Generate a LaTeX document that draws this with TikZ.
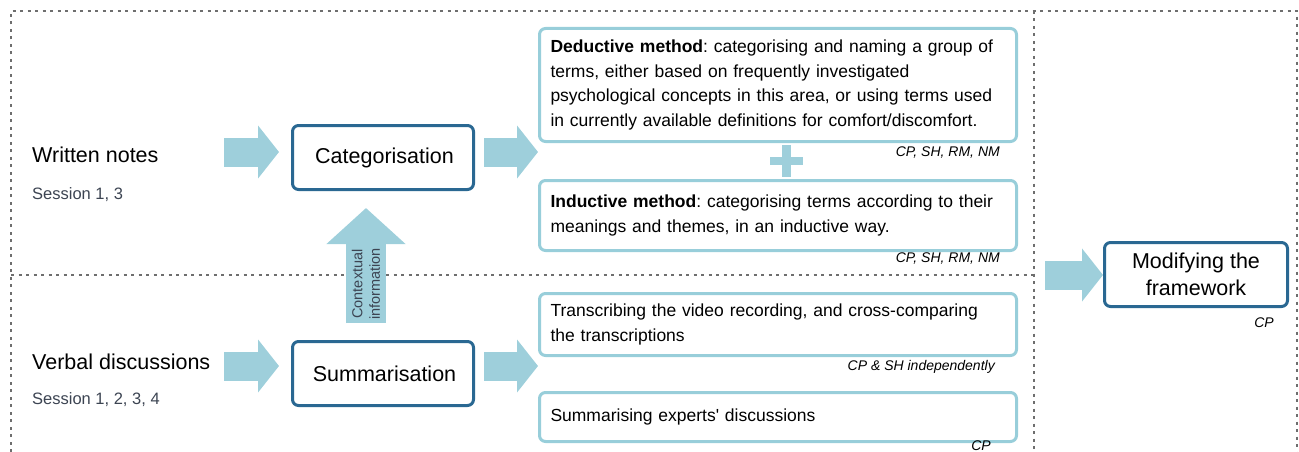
\documentclass[tikz,border=0pt]{standalone}
\usepackage{fontspec}
\setmainfont{Liberation Sans}
\usetikzlibrary{positioning,arrows.meta}

\definecolor{darkframe}{RGB}{42,104,146}
\definecolor{lightframe}{RGB}{152,206,218}
\definecolor{arrowfill}{RGB}{158,207,219}
\definecolor{sessiongray}{RGB}{60,68,82}
\definecolor{dashgray}{RGB}{110,110,110}

\frenchspacing

\begin{document}
\begin{tikzpicture}[x=1pt, y=-1pt,
	stepnode/.style={draw=darkframe, line width=3pt, rounded corners=6pt, fill=white, minimum width=181pt, minimum height=64pt, align=center, font=\fontsize{21.5}{27}\selectfont},
	methodnode/.style={draw=lightframe, line width=3pt, rounded corners=6pt, fill=white, text width=455pt, inner xsep=11pt, align=left, font=\fontsize{17.5}{24.5}\selectfont},
	sourcenode/.style={anchor=west, inner sep=0pt, font=\fontsize{21.5}{26}\selectfont},
	sessionnode/.style={anchor=west, inner sep=0pt, text=sessiongray, font=\fontsize{16.5}{20}\selectfont},
	whonode/.style={inner sep=0pt, font=\fontsize{14}{17}\selectfont\itshape},
	ctxnode/.style={rotate=90, align=center, inner sep=0pt, text=sessiongray, font=\fontsize{14.5}{17.5}\selectfont},
	flow/.style={arrowfill, line width=29pt, -{Triangle[length=21pt, width=52pt]}},
	flowup/.style={arrowfill, line width=40pt, -{Triangle[length=36pt, width=77pt]}},
	frame/.style={dashgray, line width=1.3pt, dash pattern=on 3pt off 4.5pt},
	]
	\useasboundingbox (0,0) rectangle (1299,452);
	%Frame
	\draw[frame] (11,452) -- (11,11) -- (1297,11) -- (1297,452);
	\draw[frame] (1034,11) -- (1034,452);
	\draw[frame] (11,275) -- (1034,275);
	
	%Nodes
	\node[sourcenode]  (wn)  at (32,155) {Written notes};
	\node[sessionnode] (wns) at (32,195) {Session 1, 3};
	\node[sourcenode]  (vd)  at (32,362) {Verbal discussions};
	\node[sessionnode] (vds) at (32,400) {Session 1, 2, 3, 4};
	
	\node[stepnode] (cat)  at (383,157.5) {\hspace{3pt}Categorisation};
	\node[stepnode] (summ) at (383,373.5) {\hspace{3pt}Summarisation};
	\node[stepnode, minimum width=183pt] (mod) at (1196,274.5) {Modifying the\\framework};
	
	\node[methodnode, minimum height=113pt] (ded) at (778,85) {\textbf{Deductive method}: categorising and naming a group of\\terms, either based on frequently investigated\\psychological concepts in this area, or using terms used\\in currently available definitions for comfort/discomfort.};
	\node[methodnode, minimum height=70pt] (ind) [below=36pt of ded] {\textbf{Inductive method}: categorising terms according to their\\meanings and themes, in an inductive way.};
	\node[methodnode, minimum height=62pt] (trn) at (778,324.5) {Transcribing the video recording, and cross-comparing\\the transcriptions};
	\node[methodnode, minimum height=49pt] (smd) [below=34pt of trn] {Summarising experts\textquotesingle{} discussions};
	
	\node[whonode] (dedw) [below left=4pt and 18pt of ded.south east] {CP, SH, RM, NM};
	\node[whonode] (indw) [below left=1pt and 18pt of ind.south east] {CP, SH, RM, NM};
	\node[whonode] (trnw) [below left=3pt and 23pt of trn.south east] {CP \& SH independently};
	\node[whonode] (smdw) [below left=-2pt and 27pt of smd.south east] {CP};
	\node[whonode] (modw) [below left=10pt and 15pt of mod.south east] {CP};
	
	%Plus
	\fill[arrowfill] (782,145) rectangle (791,177);
	\fill[arrowfill] (770,157) rectangle (803,165);
	
	%Lines
	\coordinate (in1)  at (224,152);
	\coordinate (out1) at (484,152);
	\coordinate (in2)  at (224,366);
	\coordinate (out2) at (484,366);
	\coordinate (in3)  at (1045,275);
	\draw[flow, shorten >=12pt] (in1) -- (in1 -| cat.west);
	\draw[flow] (out1) -- (out1 -| ded.west);
	\draw[flow, shorten >=12pt] (in2) -- (in2 -| summ.west);
	\draw[flow] (out2) -- (out2 -| trn.west);
	\draw[flow] (in3) -- (in3 -| mod.west);
	\draw[flowup, shorten <=17pt, shorten >=17pt] ([xshift=-17pt]summ.north) -- ([xshift=-17pt]cat.south);
	\node[ctxnode] (ctx) at (366,284) {Contextual\\information};
\end{tikzpicture}
\end{document}
